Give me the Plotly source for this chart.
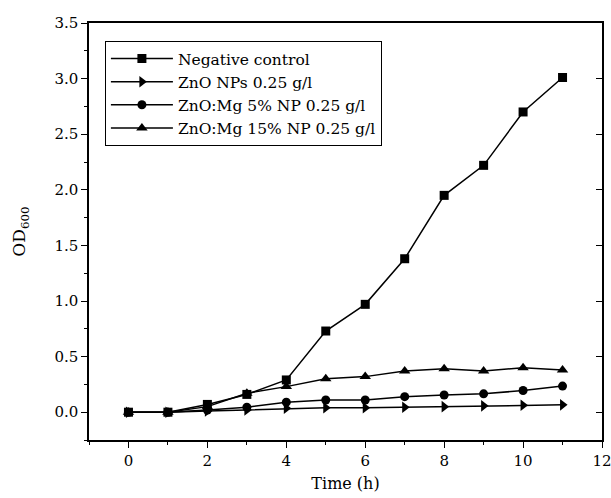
import plotly.graph_objects as go

time_h = [0, 1, 2, 3, 4, 5, 6, 7, 8, 9, 10, 11]
neg_control = [0.0, 0.0, 0.07, 0.16, 0.29, 0.73, 0.97, 1.38, 1.95, 2.22, 2.70, 3.01]
zno_nps = [0.0, 0.0, 0.01, 0.02, 0.035, 0.04, 0.04, 0.045, 0.05, 0.057, 0.063, 0.066]
zno_mg5 = [0.0, 0.0, 0.02, 0.045, 0.09, 0.11, 0.11, 0.14, 0.155, 0.165, 0.195, 0.235]
zno_mg15 = [0.0, 0.0, 0.05, 0.17, 0.23, 0.30, 0.32, 0.37, 0.39, 0.37, 0.40, 0.38]

series = [
    ("Negative control", neg_control, "square", 9),
    ("ZnO NPs 0.25 g/l", zno_nps, "triangle-right", 10),
    ("ZnO:Mg 5% NP 0.25 g/l", zno_mg5, "circle", 9),
    ("ZnO:Mg 15% NP 0.25 g/l", zno_mg15, "triangle-up", 10),
]

FONT = "DejaVu Serif"

fig = go.Figure()
for name, vals, sym, size in series:
    fig.add_trace(go.Scatter(
        x=time_h, y=vals, name=name, mode="lines+markers",
        line=dict(color="black", width=1.5),
        marker=dict(symbol=sym, size=size, color="black"),
    ))

# invisible trace to activate right-hand axis with inward ticks
fig.add_trace(go.Scatter(x=[None], y=[None], yaxis="y2", showlegend=False, hoverinfo="skip"))

fig.update_layout(
    width=611, height=498,
    margin=dict(l=89, r=9, t=23, b=58, autoexpand=False),
    paper_bgcolor="white", plot_bgcolor="white",
    font=dict(family=FONT, color="black", size=15),
    showlegend=True,
    legend=dict(
        x=0.031, y=0.957, xanchor="left", yanchor="top",
        bordercolor="black", borderwidth=1, bgcolor="white",
        font=dict(family=FONT, size=15.5), tracegroupgap=0, itemwidth=62,
    ),
    xaxis=dict(
        range=[-1, 12], tickmode="linear", tick0=0, dtick=2, automargin=False,
        ticklabeloverflow="allow",
        showgrid=False, zeroline=False,
        showline=True, linecolor="black", linewidth=1.5, mirror=True,
        ticks="outside", ticklen=6, tickwidth=1.2, tickcolor="black",
        minor=dict(dtick=1, tick0=0, ticks="outside", ticklen=3, tickcolor="black", showgrid=False),
        tickfont=dict(family=FONT, size=15),
        title=dict(text="Time (h)", font=dict(family=FONT, size=16), standoff=9),
    ),
    yaxis=dict(
        range=[-0.25, 3.5], tickmode="linear", tick0=0, dtick=0.5, tickformat=".1f", automargin=False,
        ticklabeloverflow="allow",
        showgrid=False, zeroline=False,
        showline=True, linecolor="black", linewidth=1.5, mirror=True,
        ticks="outside", ticklen=6, tickwidth=1.2, tickcolor="black",
        minor=dict(dtick=0.25, tick0=0, ticks="outside", ticklen=3, tickcolor="black", showgrid=False),
        tickfont=dict(family=FONT, size=15),
        title=dict(text="OD<sub>600</sub>", font=dict(family=FONT, size=17), standoff=24),
    ),
    yaxis2=dict(
        overlaying="y", side="right", anchor="x", automargin=False,
        range=[-0.25, 3.5], tickmode="linear", tick0=0, dtick=0.5,
        showgrid=False, zeroline=False, showline=False,
        ticks="inside", ticklen=6, tickwidth=1.2, tickcolor="black",
        showticklabels=False,
    ),
)

fig.write_html("out.html")
